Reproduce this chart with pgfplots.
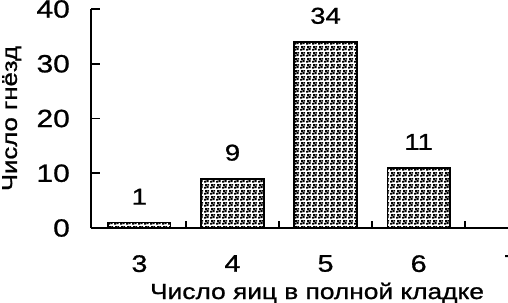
\documentclass[border=0pt]{standalone}
\usepackage{fontspec}
\setmainfont{Liberation Sans}[FakeStretch=1.2, FakeBold=1]
\usepackage{pgfplots}
\pgfplotsset{compat=1.18}
\usetikzlibrary{patterns}
\pgfdeclarepatternformonly{stipple}{\pgfqpoint{0bp}{0bp}}{\pgfqpoint{6bp}{6bp}}{\pgfqpoint{6bp}{6bp}}{%
  \pgfpathrectangle{\pgfqpoint{0.2bp}{0.3bp}}{\pgfqpoint{2.2bp}{2.2bp}}%
  \pgfpathrectangle{\pgfqpoint{3.1bp}{1.1bp}}{\pgfqpoint{2.2bp}{2.2bp}}%
  \pgfpathrectangle{\pgfqpoint{1.3bp}{3.4bp}}{\pgfqpoint{2.2bp}{2.2bp}}%
  \pgfpathrectangle{\pgfqpoint{4.2bp}{3.9bp}}{\pgfqpoint{1.9bp}{1.9bp}}%
  \pgfusepath{fill}}
\begin{document}
\begin{tikzpicture}
\begin{axis}[
  name=ax, scale only axis, width=417bp, height=219bp,
  xmin=2.48, xmax=6.96, ymin=0, ymax=40,
  axis lines*=left, axis line style={line width=1.8bp, black},
  ytick={0,10,20,30,40},
  xtick={3,4,5,6}, xticklabels={3,4,5,6},
  minor xtick={3.5,4.5,5.5,6.5},
  tick align=inside,
  major tick length=9bp, minor tick length=7bp,
  tick style={black, line width=1.8bp},
  major x tick style={draw=none},
  /pgf/number format/assume math mode=true,
  yticklabel style={font=\fontsize{25}{28}\selectfont, anchor=east, inner sep=0, xshift=-21bp},
  xticklabel style={font=\fontsize{24}{28}\selectfont, anchor=north, inner sep=0, yshift=-27bp},
  xlabel={Число яиц в полной кладке},
  xlabel style={at={(axis description cs:0.542,0)}, anchor=base, inner sep=0, yshift=-71bp, font=\fontsize{22}{24}\selectfont},
  ylabel={Число гнёзд},
  ylabel style={at={(axis description cs:-0.2135,0.5)}, anchor=north, inner sep=0, font=\fontsize{21.5}{24}\selectfont},
  clip=false,
]
\addplot[ybar, bar width=0.67, bar shift=0pt, pattern=stipple, draw=black, line width=1.8bp,
  nodes near coords,
  every node near coord/.append style={font=\fontsize{23}{26}\selectfont, inner sep=0, anchor=south, yshift=17bp}]
  coordinates {(3,1) (4,9) (5,34) (6,11)};
\node[font=\fontsize{24}{28}\selectfont, anchor=north, inner sep=0, yshift=-27bp] at (axis cs:7,0) {7};
\end{axis}
\pgfresetboundingbox
\path[use as bounding box] ([xshift=-91bp,yshift=-75bp]ax.south west) rectangle ([yshift=9bp]ax.north east);
\end{tikzpicture}
\end{document}
